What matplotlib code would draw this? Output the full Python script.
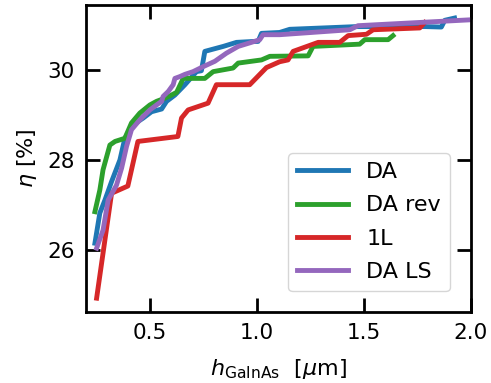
import matplotlib
matplotlib.use("Agg")
import matplotlib.pyplot as plt

# DA
da_x = [0.242, 0.265, 0.289, 0.32, 0.359, 0.382, 0.421, 0.468, 0.507, 0.554, 0.577, 0.616, 0.663,
        0.717, 0.74, 0.756, 0.842, 0.904, 0.982, 1.005, 1.021, 1.106, 1.153, 1.465, 1.79, 1.862, 1.878, 1.924]
da_y = [26.15, 26.82, 27.11, 27.52, 28.0, 28.48, 28.78, 28.93, 29.07, 29.13, 29.3, 29.44, 29.67,
        29.96, 29.98, 30.41, 30.52, 30.61, 30.63, 30.63, 30.81, 30.83, 30.9, 30.96, 30.96, 30.95, 31.1, 31.15]

# DA rev
rev_x = [0.242, 0.265, 0.28, 0.312, 0.336, 0.382, 0.413, 0.452, 0.499, 0.53, 0.569, 0.6, 0.624, 0.655,
         0.756, 0.795, 0.888, 0.912, 1.021, 1.06, 1.239, 1.262, 1.48, 1.504, 1.613, 1.636]
rev_y = [26.85, 27.33, 27.78, 28.33, 28.41, 28.48, 28.82, 29.04, 29.22, 29.3, 29.37, 29.44, 29.5, 29.81,
         29.81, 29.96, 30.04, 30.15, 30.22, 30.3, 30.31, 30.52, 30.57, 30.67, 30.67, 30.76]

# 1L
l1_x = [0.25, 0.32, 0.396, 0.443, 0.63, 0.647, 0.678, 0.771, 0.81, 0.966, 1.044, 1.106, 1.145, 1.169,
        1.286, 1.387, 1.426, 1.512, 1.543, 1.761, 1.784]
l1_y = [24.93, 27.26, 27.42, 28.41, 28.52, 28.93, 29.11, 29.26, 29.67, 29.67, 30.05, 30.18, 30.22, 30.41,
        30.61, 30.61, 30.76, 30.79, 30.89, 30.93, 31.05]

# DA LS
ls_x = [0.25, 0.28, 0.304, 0.343, 0.367, 0.39, 0.413, 0.452, 0.499, 0.53, 0.554, 0.561, 0.585, 0.608,
        0.616, 0.639, 0.663, 0.701, 0.748, 0.803, 0.857, 0.912, 0.974, 1.013, 1.028, 1.106, 1.434, 1.472, 1.994]
ls_y = [26.04, 26.44, 27.11, 27.44, 27.82, 28.3, 28.67, 28.89, 29.11, 29.22, 29.3, 29.41, 29.52, 29.67,
        29.81, 29.85, 29.9, 29.96, 30.07, 30.19, 30.37, 30.52, 30.61, 30.67, 30.78, 30.78, 30.89, 30.98, 31.11]

labels = ["DA", "DA rev", "1L", "DA LS"]
colors = ["#1f77b4", "#2ca02c", "#d62728", "#9467bd"]

fig = plt.figure(figsize=(4.91, 3.83), dpi=100)
ax = fig.add_axes([0.175, 0.185, 0.784, 0.802])

for (x, y), lab, c in zip([(da_x, da_y), (rev_x, rev_y), (l1_x, l1_y), (ls_x, ls_y)], labels, colors):
    ax.plot(x, y, color=c, lw=3.5, label=lab)

ax.set_xlim(0.2, 2.0)
ax.set_ylim(24.62, 31.44)
ax.set_xticks([0.5, 1.0, 1.5, 2.0])
ax.set_yticks([26, 28, 30])
ax.tick_params(direction="in", length=10, width=2, labelsize=15.5, top=True, right=True, pad=8)
for s in ax.spines.values():
    s.set_linewidth(2)

ax.set_xlabel(r"$h_{\mathrm{GaInAs}}$  [$\mu$m]", fontsize=16, labelpad=10)
ax.set_ylabel(r"$\eta$ [%]", fontsize=16, labelpad=6)

leg = ax.legend(loc="lower right", fontsize=16, handlelength=2.3, labelspacing=0.6,
                borderaxespad=0.95)

fig.savefig("out.png", dpi=100)
